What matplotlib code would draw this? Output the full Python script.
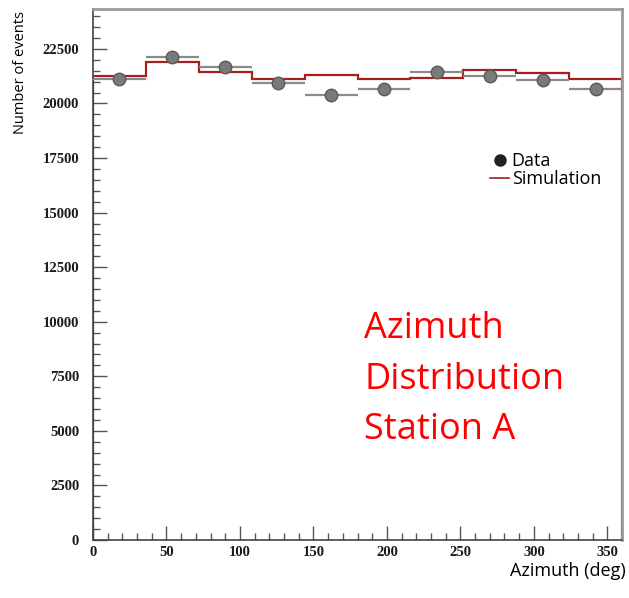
import matplotlib
matplotlib.use("Agg")
import matplotlib.pyplot as plt
from matplotlib.ticker import MultipleLocator
from matplotlib.lines import Line2D

# bins de 36 degres
bin_edges = [0, 36, 72, 108, 144, 180, 216, 252, 288, 324, 360]
bin_centers = [18, 54, 90, 126, 162, 198, 234, 270, 306, 342]
data_counts = [21100, 22150, 21650, 20950, 20380, 20650, 21450, 21280, 21080, 20650]
data_errors = [145, 149, 147, 145, 143, 144, 146, 146, 145, 144]
sim_counts = [21280, 21900, 21440, 21110, 21320, 21110, 21170, 21520, 21400, 21130]
note_lines = ["Azimuth", "Distribution", "Station A"]

fig = plt.figure(figsize=(6.29, 5.98), dpi=100)
ax = fig.add_axes([0.1479, 0.097, 0.8410, 0.888])

sim_color = "#a3201c"
data_color = "#8a8a8a"

# simulation en histogramme
ax.stairs(sim_counts, bin_edges, color=sim_color, lw=1.6, zorder=2)

# donnees avec barres d'erreur (largeur de bin en x)
half_width = [(bin_edges[i + 1] - bin_edges[i]) / 2 for i in range(len(bin_centers))]
ax.errorbar(bin_centers, data_counts, xerr=half_width, yerr=data_errors,
            fmt="o", ms=9, mfc="#7a7a7a", mec="#5a5a5a", mew=1.0,
            ecolor=data_color, elinewidth=1.6, capsize=0, zorder=3)

ax.set_xlim(0, 360)
ax.set_ylim(0, 24330)

ax.xaxis.set_major_locator(MultipleLocator(50))
ax.xaxis.set_minor_locator(MultipleLocator(10))
ax.yaxis.set_major_locator(MultipleLocator(2500))
ax.yaxis.set_minor_locator(MultipleLocator(500))

ax.tick_params(axis="both", which="both", direction="in", color="#555555",
               top=False, right=False)
ax.tick_params(axis="both", which="major", length=10, width=1.0)
ax.tick_params(axis="both", which="minor", length=5, width=1.0)
ax.tick_params(axis="y", which="major", pad=10)
ax.tick_params(axis="x", which="major", pad=4)

for lbl in ax.get_xticklabels() + ax.get_yticklabels():
    lbl.set_fontfamily("Liberation Serif")
    lbl.set_fontweight("bold")
    lbl.set_fontsize(10.5)
    lbl.set_color("#1a1a1a")

for side in ["left", "bottom"]:
    ax.spines[side].set_color("#444444")
    ax.spines[side].set_linewidth(1.2)
for side in ["top", "right"]:
    ax.spines[side].set_color("#9a9a9a")
    ax.spines[side].set_linewidth(2.0)

# titres des axes
fig.text(21 / 629, 1 - 73 / 598, "Number of events", rotation=90,
         ha="center", va="center", fontsize=10.5, family="Open Sans")
fig.text(626 / 629, 1 - 571 / 598, "Azimuth (deg)", ha="right", va="center",
         fontsize=13, family="Open Sans")

# legende
handles = [
    Line2D([], [], ls="none", marker="o", ms=8, mfc="#222222", mec="#222222"),
    Line2D([], [], color=sim_color, lw=1.2),
]
ax.legend(handles, ["Data", "Simulation"], loc="upper left",
          bbox_to_anchor=(481 / 629, 1 - 143 / 598), bbox_transform=fig.transFigure,
          frameon=False, prop={"family": "Open Sans", "size": 13},
          handlelength=1.05, handletextpad=0.15, labelspacing=0.0, borderpad=0)

# annotation en rouge, une ligne par texte
baselines = [338, 389, 439]
for txt, yb in zip(note_lines, baselines):
    fig.text(364 / 629, 1 - yb / 598, txt, ha="left", va="baseline",
             color="#ff0000", fontsize=26, family="Open Sans")

fig.savefig("out.png", dpi=100)
